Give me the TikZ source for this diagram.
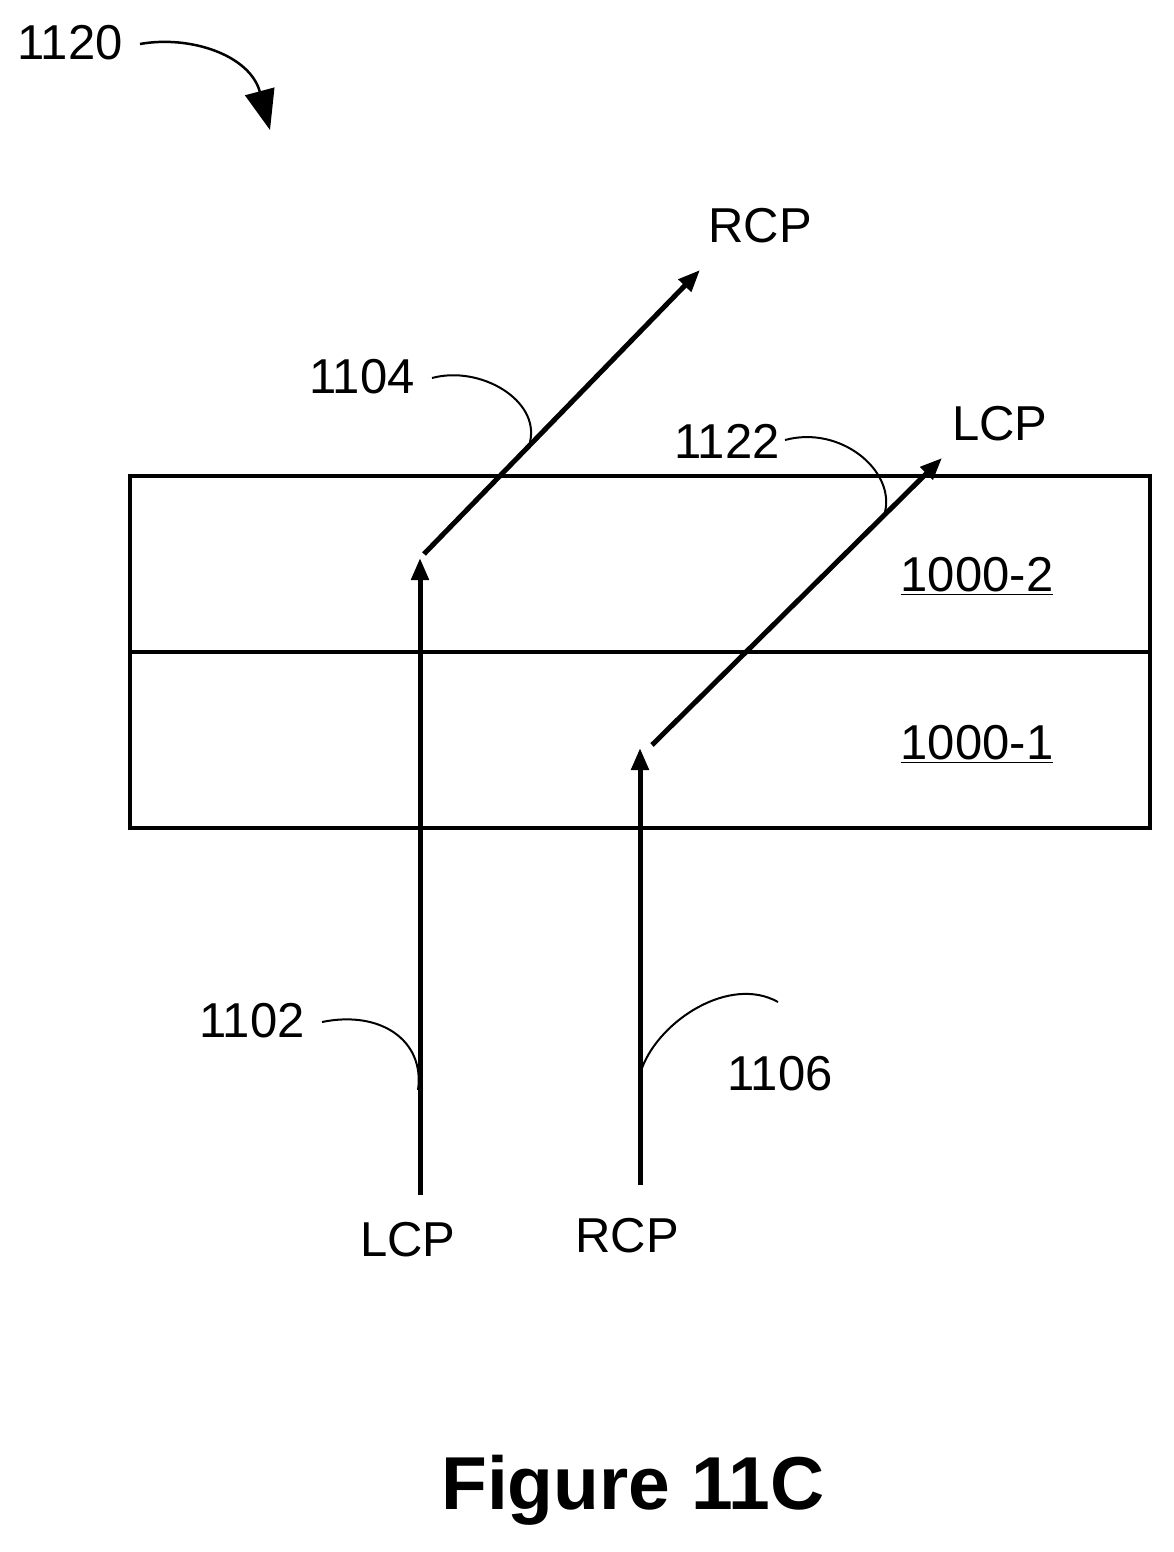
\documentclass[tikz,border=0pt]{standalone}
\usepackage{fontspec}
\setmainfont{Liberation Sans}
\usetikzlibrary{arrows.meta}
\begin{document}
\begin{tikzpicture}[x=1pt,y=-1pt,
  lbl/.style={font=\fontsize{49}{54}\selectfont,inner sep=0},
  ray/.style={line width=5pt,-{Triangle[length=22pt,width=17pt]}},
  lead/.style={line width=2pt}]
\useasboundingbox (0,0) rectangle (1174,1552);
\draw[line width=3.5pt] (130,476) rectangle (1150,828);
\draw[line width=3.5pt] (130,652) -- (1150,652);
\coordinate (a0) at (420,1195); \coordinate (a1) at (420,558);
\coordinate (a2) at (424,554); \coordinate (a3) at (700,270);
\coordinate (b0) at (640,1185); \coordinate (b1) at (640,748);
\coordinate (b2) at (652,745); \coordinate (b3) at (942,458);
\draw[ray] (a0) -- (a1);
\draw[ray] (a2) -- (a3);
\draw[ray] (b0) -- (b1);
\draw[ray] (b2) -- (b3);
\node[lbl] (rcpt) at (760,226) {RCP};
\node[lbl] (lcpt) at (1000,424) {LCP};
\node[lbl] (lcpb) at (408,1240) {LCP};
\node[lbl] (rcpb) at (627,1236) {RCP};
\node[lbl] (l2) at (977,576) {\underline{1000-2}};
\node[lbl] (l1) at (977,744) {\underline{1000-1}};
\node[lbl] (n1104) at (362,377) {1104};
\node[lbl] (n1122) at (727,441) {1122};
\node[lbl] (n1102) at (252,1021) {1102};
\node[lbl] (n1106) at (780,1074) {1106};
\node[lbl] (n1120) at (70,43) {1120};
\node[font=\bfseries\fontsize{75}{80}\selectfont,inner sep=0] (fig) at (633,1490) {Figure 11C};
\draw[lead] (432,378) .. controls (480,365) and (540,400) .. (530,442);
\draw[lead] (785,440) .. controls (840,425) and (895,470) .. (885,512);
\draw[lead] (322,1022) .. controls (380,1010) and (425,1040) .. (418,1090);
\draw[lead] (778,1002) .. controls (730,975) and (660,1020) .. (642,1068);
\draw[line width=2.5pt,-{Triangle[length=40pt,width=30pt]}] (140,44) .. controls (190,35) and (250,55) .. (270,130);
\end{tikzpicture}
\end{document}
